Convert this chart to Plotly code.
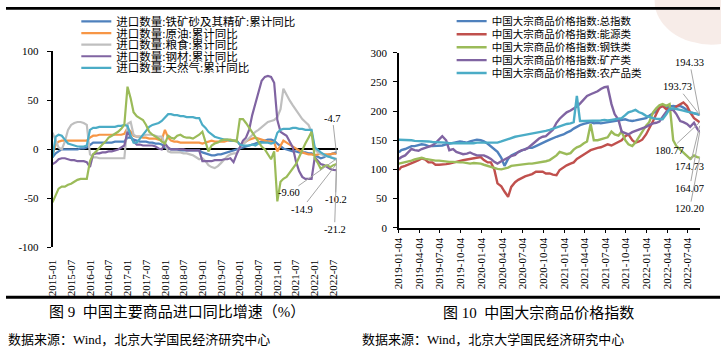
import plotly.graph_objects as go

W, H = 721, 352

# ---------------- Left chart data (monthly cumulative YoY, %) ----------------
left_months = [f"{y}-{m:02d}-01" for y in range(2015, 2023) for m in range(1, 13)][:92]
left_tick_labels = ["2015-01", "2015-07", "2016-01", "2016-07", "2017-01", "2017-07",
                    "2018-01", "2018-07", "2019-01", "2019-07", "2020-01", "2020-07",
                    "2021-01", "2021-07", "2022-01", "2022-07"]

iron_ore = [-8, -4, -2, 0, 0, 0, 0, 0, 0, 1, 1, 2,
            5, 7, 7, 7, 7, 7, 7, 7, 8, 8, 8, 8,
            12, 12, 10, 9, 8, 8, 8, 7, 7, 6, 6, 5,
            2, 1, 0, 0, 0, -1, -1, -1, -1, -1, -1, -1,
            -3, -4, -5, -6, -6, -5, -5, -4, -3, -2, -1, 0,
            1, 2, 3, 4, 5, 6, 7, 8, 9, 10, 10, 9,
            6, 3, 1, 0, -1, -2, -2, -3, -3, -3, -4, -4,
            -6, -8, -9, -8, -6, -5, -4, -3]
crude_oil = [-5, 5, 8, 9, 9, 9, 9, 9, 9, 9, 9, 9,
             12, 14, 14, 15, 15, 15, 15, 15, 15, 15, 15, 16,
             22, 18, 14, 13, 13, 12, 12, 11, 11, 11, 10, 10,
             20, 12, 9, 8, 8, 7, 7, 7, 7, 7, 7, 7,
             6, 7, 8, 9, 8, 8, 8, 8, 9, 9, 9, 9,
             5, 6, 8, 10, 11, 12, 11, 10, 9, 8, 8, 7,
             -2, 4, 9, 7, 5, 3, 1, -1, -3, -4, -5, -5,
             -6, -5, -4, -5, -5, -5, -4, -4.7]
grain = [17, 10, 2, 0, 8, 20, 25, 27, 28, 28, 27, 25,
         -5, -8, -8, -9, -9, -9, -9, -9, -9, -9, -9, -9,
         26, 28, 15, 13, 13, 14, 15, 15, 15, 14, 13, 13,
         5, -2, -3, -3, -3, -3, -4, -4, -5, -6, -8, -10,
         -9, -12, -16, -18, -19, -17, -14, -10, -7, -5, -4, -4,
         2, 5, 8, 12, 15, 18, 20, 23, 26, 28, 29, 30,
         33, 41, 62, 55, 50, 45, 40, 35, 31, 28, 25, 18,
         0, -3, -5, -6, -7, -8, -9, -9.6]
steel = [-15, -13, -10, -9, -9, -10, -11, -11, -12, -12, -12, -13,
         -18, -5, -4, -4, -3, -3, -2, -2, -1, 0, 2, 4,
         18, 12, 8, 5, 5, 4, 4, 4, 4, 3, 1, 0,
         6, 2, 0, 0, 0, 0, 0, -1, -1, -1, -1, -1,
         -12, -12, -12, -12, -11, -11, -11, -10, -10, -9, -13, -5,
         3, 9, 12, 20, 35, 47, 60, 70, 74, 75, 74, 68,
         30, 18, 16, 14, 8, 2, -12, -22, -28, -30, -30, -30,
         -8, -12, -15, -16, -18, -20, -21, -21.2]
natural_gas = [-8, 13, 15, 14, 10, 6, 5, 4, 3, 3, 3, 4,
               20, 22, 22, 23, 23, 23, 23, 23, 23, 24, 24, 25,
               24, 14, 7, 7, 11, 15, 19, 23, 25, 26, 27, 29,
               33, 36, 36, 35, 35, 34, 34, 33, 33, 33, 32, 32,
               25, 22, 18, 15, 13, 12, 11, 10, 10, 9, 9, 9,
               5, 4, 4, 4, 5, 4, 6, 7, 7, 7, 6, 7,
               17, 20, 21, 21, 21, 22, 22, 21, 21, 20, 20, 20,
               2, -1, -3, -5, -7, -8, -9, -10.2]
coal = [-54, -46, -40, -38, -38, -36, -35, -33, -31, -30, -30, -30,
        -12, -5, -2, 2, 5, 8, 12, 14, 16, 18, 21, 25,
        64, 52, 38, 34, 32, 30, 25, 18, 15, 13, 11, 8,
        6, 14, 12, 11, 14, 15, 13, 12, 12, 11, 13, 15,
        18, 8, -2, 4, 6, 7, 9, 10, 10, 10, 9, 8,
        31, 31, 27, 22, 17, 12, 7, 3, 0, -5, -10, -2,
        -53, -33, -30, -28, -24, -20, -15, -8, 0, 6, 12, 18,
        -9, -14, -20, -17, -16, -18, -16, -14.9]
left_months = left_months[:len(iron_ore)]

left_names = ["进口数量:铁矿砂及其精矿:累计同比", "进口数量:原油:累计同比",
              "进口数量:粮食:累计同比", "进口数量:钢材:累计同比",
              "进口数量:天然气:累计同比"]
left_series = [iron_ore, crude_oil, grain, steel, natural_gas]
left_colors = ["#4F81BD", "#F79646", "#BFBFBF", "#8064A2", "#4BACC6"]
coal_name = "进口数量:煤及褐煤:累计同比"
coal_color = "#9BBB59"

# ---------------- Right chart data (price indices) ----------------
right_dates = ["2019-01-04"] + [f"{y}-{m:02d}-{d}" for y in range(2019, 2023) for m in range(1, 13)
                                for d in ("01", "15")
                                if not (y == 2019 and m == 1 and d == "01") and (y, m) <= (2022, 8)] + ["2022-08-26"]
right_tick_labels = ["2019-01-04", "2019-04-04", "2019-07-04", "2019-10-04", "2020-01-04",
                     "2020-04-04", "2020-07-04", "2020-10-04", "2021-01-04", "2021-04-04",
                     "2021-07-04", "2021-10-04", "2022-01-04", "2022-04-04", "2022-07-04"]

total_idx = [129, 133, 135, 138, 140, 140, 141, 143, 142, 140, 140, 140, 140, 141, 143, 144,
             146, 147, 148, 147, 146, 148, 150, 151, 150, 148, 144, 139, 135, 130, 120, 106,
             118, 124, 127, 130, 133, 135, 137, 137, 140, 143, 146, 148, 151, 154, 156, 158,
             160, 163, 166, 170, 173, 176, 178, 179, 181, 179, 180, 179, 180, 181, 181, 182,
             183, 184, 186, 184, 183, 184, 185, 186, 188, 192, 196, 200, 206, 209, 207, 208,
             209, 208, 209, 206, 202, 198, 196, 195, 193.73]
energy_idx = [99, 104, 106, 108, 111, 113, 116, 119, 117, 112, 112, 108, 108, 108, 109, 110,
              112, 113, 115, 116, 117, 118, 120, 121, 121, 116, 112, 112, 100, 76, 71, 62,
              53, 70, 78, 82, 86, 88, 90, 92, 96, 96, 96, 93, 93, 91, 90, 99,
              104, 107, 110, 112, 118, 121, 125, 129, 133, 135, 137, 138, 141, 143, 141, 144,
              147, 150, 157, 160, 150, 146, 148, 151, 160, 170, 183, 195, 206, 209, 203, 205,
              202, 208, 212, 215, 209, 198, 188, 183, 180.77]
steel_idx = [110, 111, 112, 113, 115, 117, 119, 120, 118, 117, 116, 115, 115, 114, 114, 113,
             113, 112, 112, 112, 111, 110, 111, 111, 110, 108, 106, 104, 102, 101, 100, 101,
             103, 106, 107, 107, 108, 109, 110, 110, 111, 112, 113, 114, 116, 120, 124, 130,
             128, 126, 128, 134, 138, 140, 145, 148, 178, 150, 150, 152, 154, 155, 165, 160,
             158, 165, 150, 143, 140, 146, 156, 165, 175, 181, 198, 205, 210, 212, 209, 212,
             150, 140, 134, 128, 122, 118, 124, 121, 120.20]
mineral_idx = [118, 121, 124, 130, 135, 133, 132, 135, 137, 139, 141, 145, 152, 157, 150, 133,
               135, 130, 128, 126, 127, 129, 126, 124, 124, 124, 121, 118, 113, 110, 114, 117,
               121, 123, 125, 130, 133, 134, 138, 143, 148, 153, 156, 157, 163, 168, 180, 187,
               193, 198, 201, 204, 208, 213, 220, 226, 229, 231, 234, 238, 241, 242, 212, 195,
               185, 165, 162, 160, 164, 166, 168, 170, 173, 176, 179, 180, 182, 190, 199, 203,
               202, 195, 183, 181, 178, 173, 180, 170, 164.07]
agri_idx = [151, 151, 150, 150, 150, 149, 149, 148, 148, 148, 147, 147, 146, 146, 146, 145,
            145, 145, 144, 144, 144, 145, 145, 146, 146, 146, 146, 145, 145, 146, 148, 150,
            152, 154, 156, 157, 158, 159, 160, 161, 162, 163, 164, 166, 168, 170, 172, 174,
            177, 178, 179, 181, 226, 183, 183, 183, 184, 184, 184, 184, 185, 184, 185, 186,
            187, 188, 193, 198, 200, 202, 198, 196, 192, 190, 188, 187, 186, 186, 195, 204,
            205, 204, 203, 201, 199, 198, 196, 195, 194.33]

right_names = ["中国大宗商品价格指数:总指数", "中国大宗商品价格指数:能源类",
               "中国大宗商品价格指数:钢铁类", "中国大宗商品价格指数:矿产类",
               "中国大宗商品价格指数:农产品类"]
right_series = [total_idx, energy_idx, steel_idx, mineral_idx, agri_idx]
right_colors = ["#4F81BD", "#C0504D", "#9BBB59", "#8064A2", "#4BACC6"]

left_end_labels = [("-4.7", -4.7, -4, -36), ("-9.60", -9.6, -48, 34), ("-14.9", -14.9, -35, 45),
                   ("-10.2", -10.2, -1, 40), ("-21.2", -21.2, -2, 59)]
right_end_labels = [("194.33", 194.33, -10, -52), ("193.73", 193.73, -22, -28),
                    ("180.77", 180.77, -30, 28), ("174.73", 174.73, -10, 41),
                    ("164.07", 164.07, -10, 56), ("120.20", 120.20, -10, 51)]

# ---------------- helpers ----------------
FONT = "'Times New Roman', 'Liberation Serif', 'Noto Sans CJK SC', serif"


def fx(p):
    return p / W


def fy(p):
    return 1 - p / H


fig = go.Figure()

# Left traces
for i, (name, vals, col) in enumerate(zip(left_names, left_series, left_colors)):
    fig.add_trace(go.Scatter(x=left_months, y=vals, name=name, mode="lines",
                             line=dict(color=col, width=2.2), xaxis="x", yaxis="y",
                             legend="legend" if i == 0 else f"legend{i + 1}"))
fig.add_trace(go.Scatter(x=left_months, y=coal, name=coal_name, mode="lines",
                         line=dict(color=coal_color, width=2.2), xaxis="x", yaxis="y",
                         showlegend=False))

# Right traces
for i, (name, vals, col) in enumerate(zip(right_names, right_series, right_colors)):
    fig.add_trace(go.Scatter(x=right_dates, y=vals, name=name, mode="lines",
                             line=dict(color=col, width=2.4), xaxis="x3", yaxis="y2",
                             legend=f"legend{i + 6}"))

left_ticks = [t + "-01" for t in left_tick_labels]
left_range = ["2015-01-01", "2022-08-13"]
right_range = ["2019-01-04", "2022-08-27"]

y0_left_px = 148.3
layout = dict(
    width=W, height=H, margin=dict(l=0, r=0, t=0, b=0),
    paper_bgcolor="white", plot_bgcolor="rgba(0,0,0,0)",
    font=dict(family=FONT, size=11, color="black"),
    showlegend=True,
    xaxis=dict(domain=[fx(47), fx(335)], anchor="y", type="date", range=left_range,
               tickvals=left_ticks, ticktext=left_tick_labels, tickangle=-90,
               showline=False, ticks="", showgrid=False, zeroline=False,
               ticklabelstandoff=9, tickfont=dict(size=11, family=FONT)),
    xaxis2=dict(overlaying="x", anchor="free", position=fy(y0_left_px - 3), type="date",
                range=left_range, tickvals=left_ticks, showticklabels=False,
                ticks="outside", ticklen=6, tickwidth=1.2, tickcolor="black",
                showline=False, showgrid=False, zeroline=False),
    yaxis=dict(domain=[fy(250), fy(47)], anchor="x", range=[-100, 100],
               tickvals=[-100, -50, 0, 50, 100], ticktext=["-100", "-50", "0", "50", "100"],
               showline=True, linecolor="black", linewidth=1.5, ticks="outside", ticklen=4,
               tickcolor="black", showgrid=False, zeroline=True, zerolinecolor="black",
               zerolinewidth=1.5, ticklabelstandoff=6, tickfont=dict(size=11, family=FONT)),
    xaxis3=dict(domain=[fx(396.7), fx(700.7)], anchor="y2", type="date", range=right_range,
                tickvals=right_tick_labels, ticktext=right_tick_labels, tickangle=-90,
                showline=True, linecolor="black", linewidth=1.5, ticks="outside", ticklen=4,
                tickcolor="black", showgrid=False, zeroline=False,
                tickfont=dict(size=11, family=FONT)),
    yaxis2=dict(domain=[fy(229.5), fy(48.5)], anchor="x3", range=[0, 300],
                tickvals=[0, 50, 100, 150, 200, 250, 300],
                showline=True, linecolor="black", linewidth=1.5, ticks="outside", ticklen=4,
                tickcolor="black", showgrid=False, zeroline=False, ticklabelstandoff=4,
                tickfont=dict(size=11, family=FONT)),
)

left_rows = [16, 28, 40, 52, 64]
right_rows = [15.7, 29.3, 42.7, 56, 69.3]
for i, py in enumerate(left_rows):
    key = "legend" if i == 0 else f"legend{i + 1}"
    layout[key] = dict(x=fx(71), y=fy(py), xanchor="left", yanchor="middle",
                       bgcolor="rgba(0,0,0,0)", borderwidth=0,
                       font=dict(size=11.5, family=FONT), itemwidth=30)
for i, py in enumerate(right_rows):
    layout[f"legend{i + 6}"] = dict(x=fx(450), y=fy(py), xanchor="left", yanchor="middle",
                                    bgcolor="rgba(0,0,0,0)", borderwidth=0,
                                    font=dict(size=10.5, family=FONT), itemwidth=30)

fig.update_layout(**layout)

annotations = []
for text, val, ax, ay in left_end_labels:
    annotations.append(dict(x=left_months[-1], y=val, xref="x", yref="y", text=text,
                            showarrow=True, arrowhead=0, arrowwidth=1, arrowcolor="#A6A6A6",
                            ax=ax, ay=ay, font=dict(size=10.5, family=FONT)))
for text, val, ax, ay in right_end_labels:
    annotations.append(dict(x=right_dates[-1], y=val, xref="x3", yref="y2", text=text,
                            showarrow=True, arrowhead=0, arrowwidth=1, arrowcolor="#A6A6A6",
                            ax=ax, ay=ay, font=dict(size=10.5, family=FONT)))

annotations += [
    dict(x=fx(173), y=fy(317), xref="paper", yref="paper", showarrow=False,
         text="图 9  中国主要商品进口同比增速（%）", xanchor="center", yanchor="middle",
         font=dict(size=15, family=FONT)),
    dict(x=fx(538), y=fy(317), xref="paper", yref="paper", showarrow=False,
         text="图 10  中国大宗商品价格指数", xanchor="center", yanchor="middle",
         font=dict(size=15, family=FONT)),
    dict(x=0, y=fy(345), xref="paper", yref="paper", showarrow=False,
         text="数据来源：Wind，北京大学国民经济研究中心", xanchor="left", yanchor="middle",
         font=dict(size=13, family=FONT)),
    dict(x=fx(357), y=fy(345), xref="paper", yref="paper", showarrow=False,
         text="数据来源：Wind，北京大学国民经济研究中心", xanchor="left", yanchor="middle",
         font=dict(size=13, family=FONT)),
]
fig.update_layout(annotations=annotations)

shapes = [
    dict(type="circle", xref="paper", yref="paper", x0=fx(655), x1=fx(770), y0=fy(40), y1=fy(-50),
         fillcolor="rgba(232,200,188,0.35)", line=dict(width=0), layer="below"),
    dict(type="rect", xref="paper", yref="paper", x0=0, x1=1, y0=fy(4), y1=fy(1),
         fillcolor="black", line=dict(width=0)),
    dict(type="rect", xref="paper", yref="paper", x0=0, x1=1, y0=fy(303), y1=fy(300),
         fillcolor="black", line=dict(width=0)),
]
fig.update_layout(shapes=shapes)

fig.write_html("out.html")
